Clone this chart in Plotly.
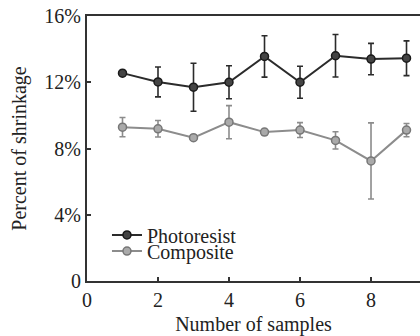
import plotly.graph_objects as go

samples = [1, 2, 3, 4, 5, 6, 7, 8, 9]
photoresist = [12.55, 12.02, 11.7, 12.0, 13.56, 12.0, 13.6, 13.4, 13.45]
photoresist_err = [0.1, 0.9, 1.45, 1.0, 1.25, 0.97, 1.28, 0.95, 1.05]
composite = [9.29, 9.19, 8.65, 9.59, 8.99, 9.11, 8.49, 7.25, 9.11]
composite_err = [0.58, 0.5, 0.15, 1.0, 0.15, 0.45, 0.52, 2.3, 0.4]

x_ticks = [0, 2, 4, 6, 8]
y_ticks = [0, 4, 8, 12, 16]
y_tick_labels = ["0", "4%", "8%", "12%", "16%"]

FONT = "Liberation Serif, Times New Roman, serif"
DARK = "#2b2b2b"
GRAY = "#8c8c8c"
FS = 20

fig = go.Figure()
fig.add_trace(go.Scatter(
    x=samples, y=photoresist, name="Photoresist", mode="lines+markers",
    legend="legend",
    line=dict(color=DARK, width=2),
    marker=dict(symbol="circle", size=8, color="#444444", line=dict(color="#1a1a1a", width=1.5)),
    error_y=dict(type="data", array=photoresist_err, visible=True, color=DARK, thickness=1.6, width=3),
))
fig.add_trace(go.Scatter(
    x=samples, y=composite, name="Composite", mode="lines+markers",
    legend="legend2",
    line=dict(color=GRAY, width=2),
    marker=dict(symbol="circle", size=8, color="#aaaaaa", line=dict(color="#777777", width=1.5)),
    error_y=dict(type="data", array=composite_err, visible=True, color=GRAY, thickness=1.6, width=3),
))

leg_common = dict(xanchor="left", yanchor="middle", bgcolor="rgba(0,0,0,0)",
                  font=dict(family=FONT, size=FS, color="#222222"), itemwidth=30)

fig.update_layout(
    width=420, height=336,
    margin=dict(l=87, r=0, t=16, b=55),
    paper_bgcolor="white", plot_bgcolor="white",
    font=dict(family=FONT, size=FS, color="#222222"),
    showlegend=True,
    legend=dict(x=0.06, y=0.174, **leg_common),
    legend2=dict(x=0.06, y=0.113, **leg_common),
    xaxis=dict(
        range=[0, 9.38], tickvals=x_ticks, ticktext=[str(v) for v in x_ticks],
        ticks="inside", ticklen=4, tickwidth=1.5, tickcolor="#333333",
        showline=True, linecolor="#333333", linewidth=2, mirror=True,
        showgrid=False, zeroline=False, automargin=False,
        title=dict(text="Number of samples", standoff=10, font=dict(size=FS)),
    ),
    yaxis=dict(
        range=[0, 16], tickvals=y_ticks, ticktext=y_tick_labels,
        ticks="inside", ticklen=4, tickwidth=1.5, tickcolor="#333333",
        showline=True, linecolor="#333333", linewidth=2,
        showgrid=False, zeroline=False, automargin=False,
        title=dict(text="Percent of shrinkage", standoff=12, font=dict(size=FS)),
    ),
)

fig.write_html("out.html", config={"displayModeBar": False},
               post_script="document.body.style.margin='0';")
